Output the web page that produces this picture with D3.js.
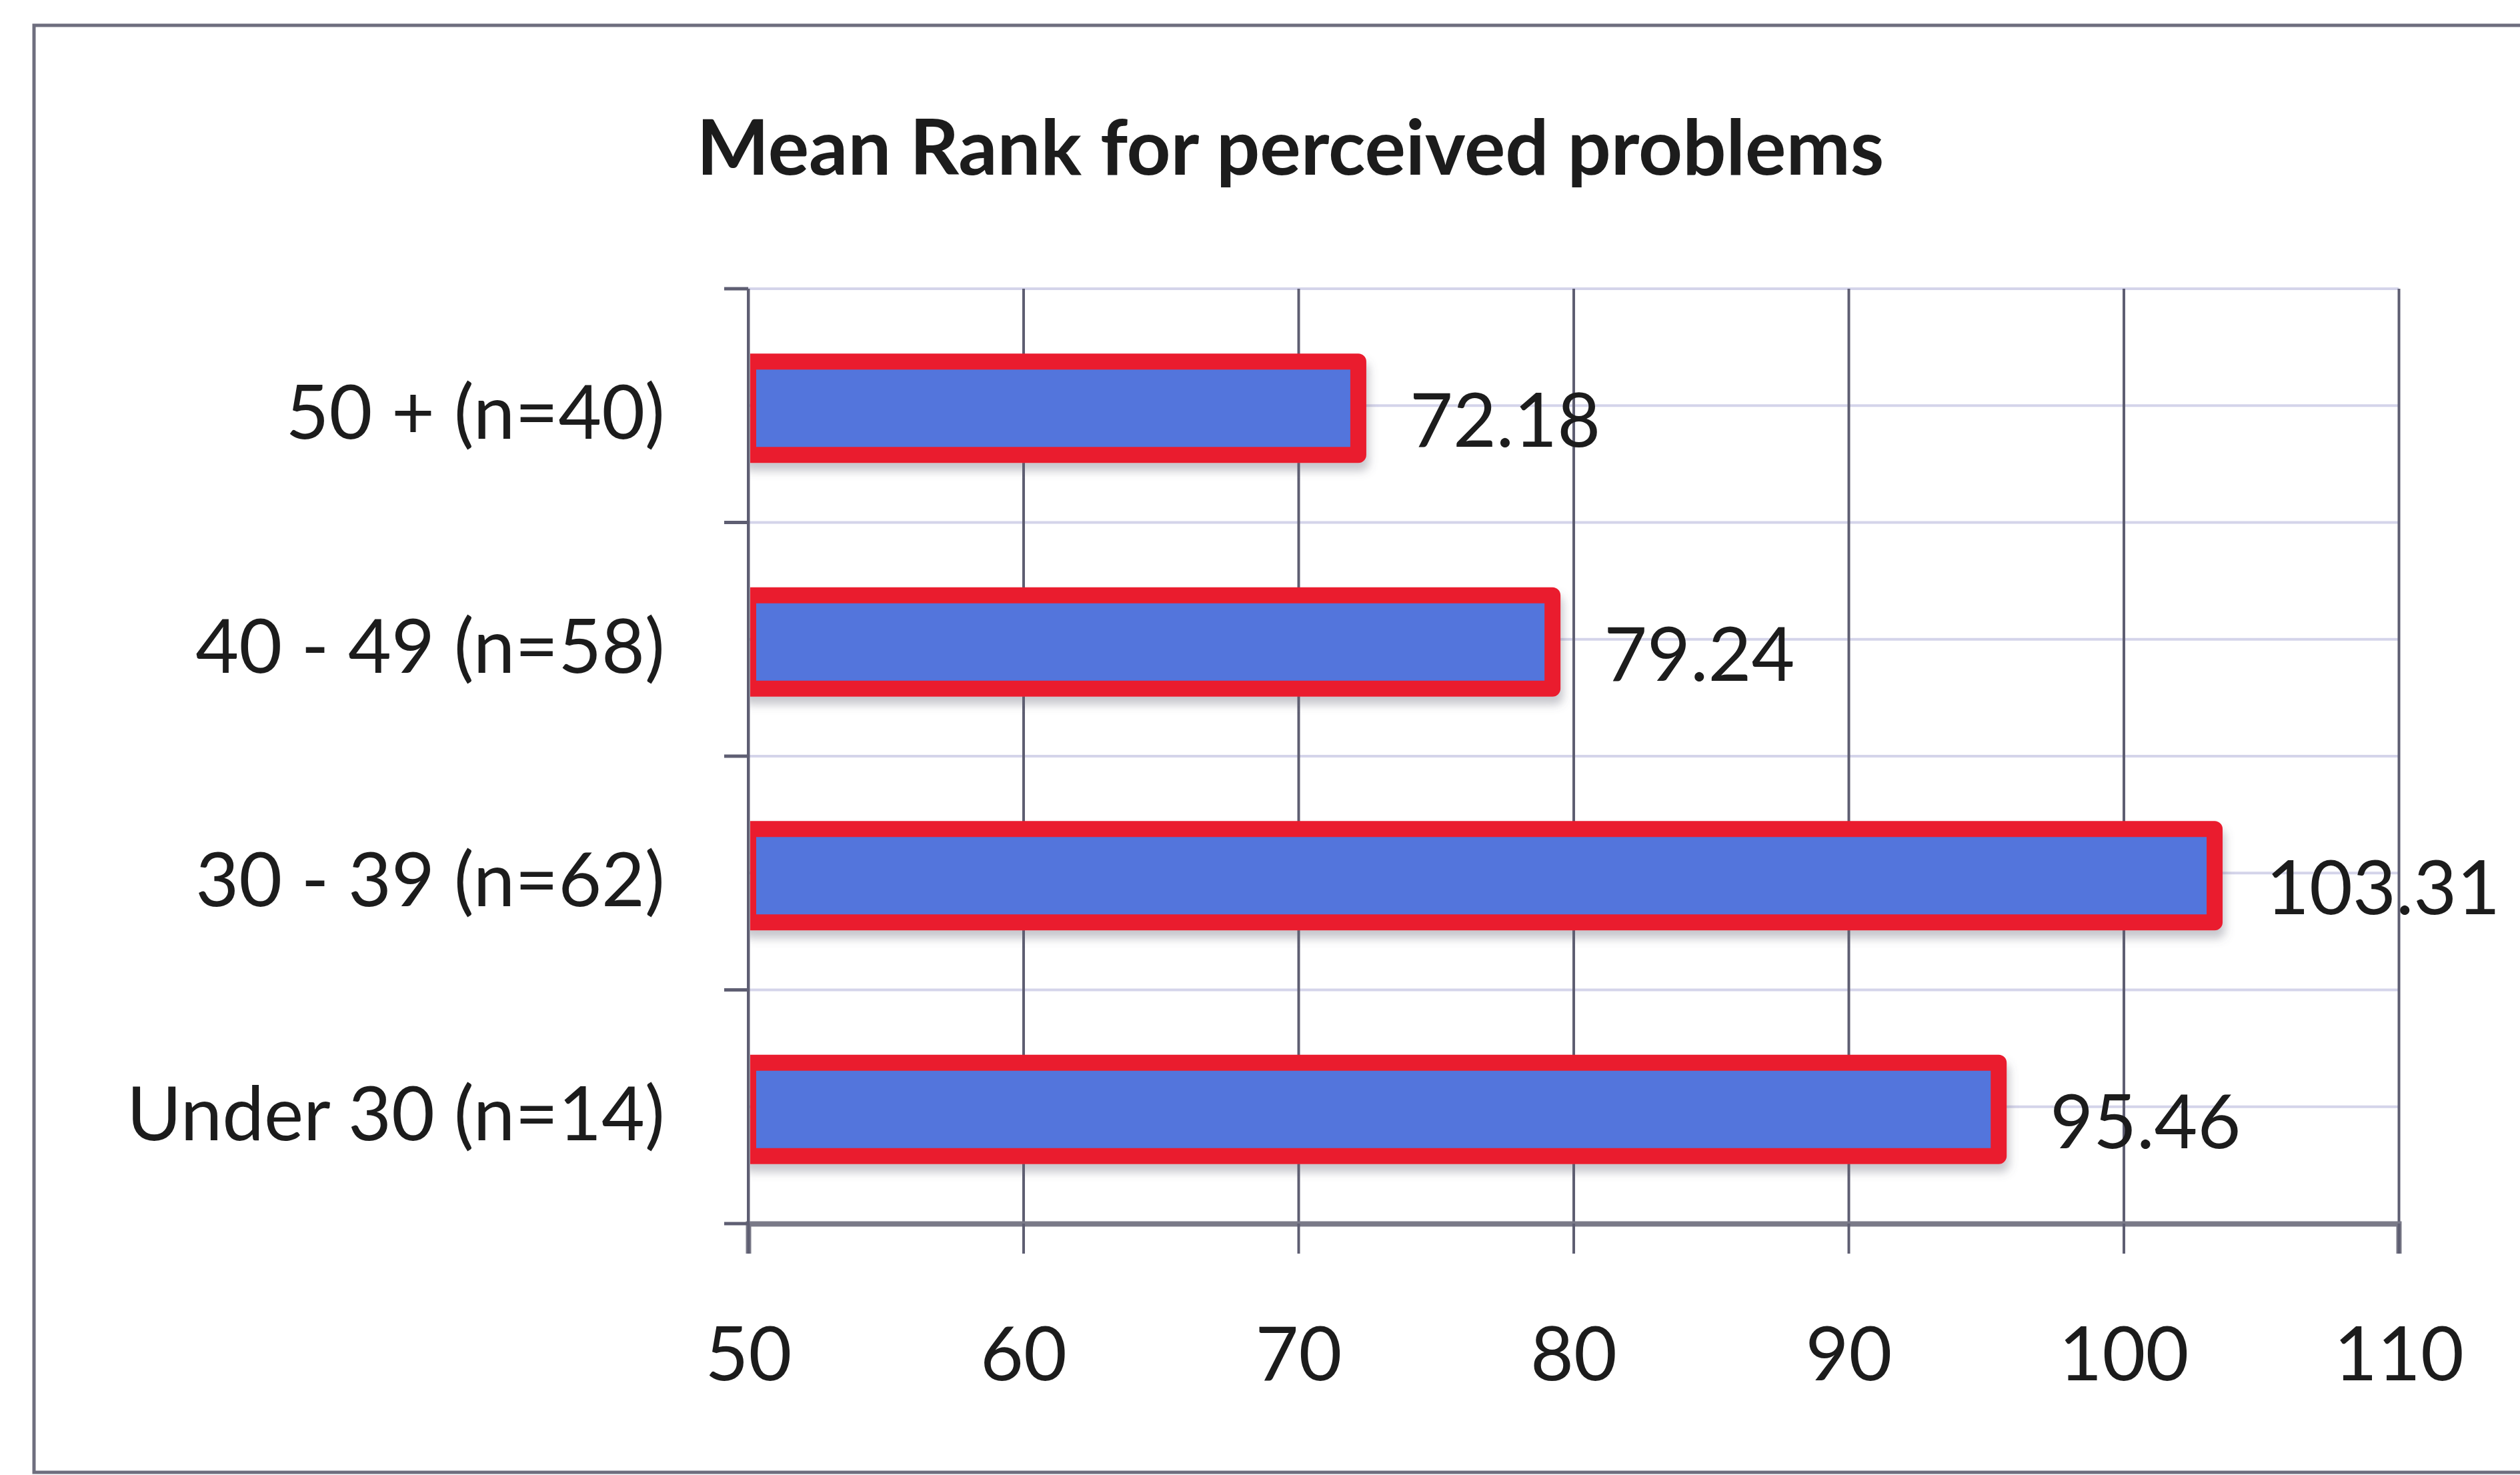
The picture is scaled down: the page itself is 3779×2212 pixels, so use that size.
<!DOCTYPE html>
<html>
<head>
<meta charset="utf-8">
<script src="https://cdn.jsdelivr.net/npm/d3@7"></script>
<style>
  html, body { margin: 0; padding: 0; background: #ffffff; }
  svg { display: block; }
  text { font-family: Lato, "Open Sans", sans-serif; fill: #1c1c1c; }
</style>
</head>
<body>
<script>
// Chart data
const title = "Mean Rank for perceived problems";
const categories = ["50 + (n=40)", "40 - 49 (n=58)", "30 - 39 (n=62)", "Under 30 (n=14)"];
const meanRanks = [72.18, 79.24, 103.31, 95.46];
const xTicks = [50, 60, 70, 80, 90, 100, 110];

const W = 3779, H = 2212;
const plot = { left: 1122, right: 3597, top: 433, bottom: 1835 };

const svg = d3.select("body").append("svg")
  .attr("width", W).attr("height", H);

const defs = svg.append("defs");
const shadow = defs.append("filter").attr("id", "barShadow")
  .attr("x", "-5%").attr("y", "-30%").attr("width", "115%").attr("height", "170%");
shadow.append("feDropShadow")
  .attr("dx", 4).attr("dy", 12).attr("stdDeviation", 7)
  .attr("flood-color", "#606070").attr("flood-opacity", 0.35);

// Bars are clipped at the value axis so their left border tucks against it
defs.append("clipPath").attr("id", "plotClip")
  .append("rect")
  .attr("x", plot.left + 3).attr("y", 0)
  .attr("width", W).attr("height", H);

// Outer chart frame
svg.append("rect")
  .attr("x", 51).attr("y", 38)
  .attr("width", W + 40).attr("height", 2208 - 38)
  .attr("fill", "none").attr("stroke", "#6e6e7e").attr("stroke-width", 5);

const x = d3.scaleLinear()
  .domain([d3.min(xTicks), d3.max(xTicks)])
  .range([plot.left, plot.right]);

const y = d3.scaleBand()
  .domain(categories)
  .range([plot.top, plot.bottom])
  .paddingInner(0.6)
  .paddingOuter(0.3);

const step = y.step();
const boundaries = categories.map(c => y(c) - step * 0.3).concat([plot.bottom]);
const centers = categories.map(c => y(c) + y.bandwidth() / 2);

// Light horizontal gridlines at category boundaries and centres
svg.append("g").selectAll("line")
  .data(boundaries.slice(0, -1).concat(centers))
  .join("line")
  .attr("x1", plot.left).attr("x2", plot.right)
  .attr("y1", d => d).attr("y2", d => d)
  .attr("stroke", "#d4d4ea").attr("stroke-width", 4);

// Vertical value gridlines
const xGrid = svg.append("g")
  .attr("transform", `translate(0,${plot.top})`)
  .call(d3.axisBottom(x).tickValues(xTicks).tickSize(plot.bottom - plot.top).tickFormat(""));
xGrid.select(".domain").remove();
xGrid.selectAll(".tick line").attr("stroke", "#5e5e72").attr("stroke-width", 4);

// Bottom value axis with labels
const xAxis = svg.append("g")
  .attr("transform", `translate(0,${plot.bottom})`)
  .call(d3.axisBottom(x).tickValues(xTicks).tickSize(45).tickPadding(110).tickFormat(d3.format("d")));
xAxis.select(".domain").attr("stroke", "#7a7a88").attr("stroke-width", 8);
xAxis.selectAll(".tick line").attr("stroke", "#5e5e72").attr("stroke-width", 4);
xAxis.selectAll(".tick text")
  .attr("font-size", 112).attr("fill", "#1c1c1c")
  .attr("dy", "0.71em");

// Category labels
svg.append("g").selectAll("text")
  .data(categories)
  .join("text")
  .attr("x", plot.left - 125)
  .attr("y", d => y(d) + y.bandwidth() / 2 + 50)
  .attr("text-anchor", "end")
  .attr("font-size", 112)
  .text(d => d);

// Bars
const bars = categories.map((c, i) => ({ cat: c, value: meanRanks[i] }));
svg.append("g")
  .attr("clip-path", "url(#plotClip)")
  .selectAll("rect")
  .data(bars)
  .join("rect")
  .attr("x", x(50))
  .attr("y", d => y(d.cat) + 4)
  .attr("width", d => x(d.value) - x(50))
  .attr("height", y.bandwidth())
  .attr("fill", "#5275dc")
  .attr("stroke", "#ea1e2e")
  .attr("stroke-width", 24)
  .attr("stroke-linejoin", "round")
  .attr("filter", "url(#barShadow)");

// Left category axis line and boundary tick marks
svg.append("line")
  .attr("x1", plot.left).attr("x2", plot.left)
  .attr("y1", plot.top).attr("y2", plot.bottom)
  .attr("stroke", "#5e5e72").attr("stroke-width", 4);
svg.append("g").selectAll("line")
  .data(boundaries)
  .join("line")
  .attr("x1", plot.left - 36).attr("x2", plot.left)
  .attr("y1", d => d).attr("y2", d => d)
  .attr("stroke", "#5e5e72").attr("stroke-width", 5);

// Value labels
svg.append("g").selectAll("text")
  .data(bars)
  .join("text")
  .attr("x", d => x(d.value) + 77)
  .attr("y", d => y(d.cat) + y.bandwidth() / 2 + 62)
  .attr("font-size", 112)
  .text(d => d3.format(".2f")(d.value));

// Title
svg.append("text")
  .attr("x", 1935).attr("y", 262)
  .attr("text-anchor", "middle")
  .attr("font-size", 115)
  .attr("font-weight", 700)
  .text(title);
</script>
</body>
</html>
